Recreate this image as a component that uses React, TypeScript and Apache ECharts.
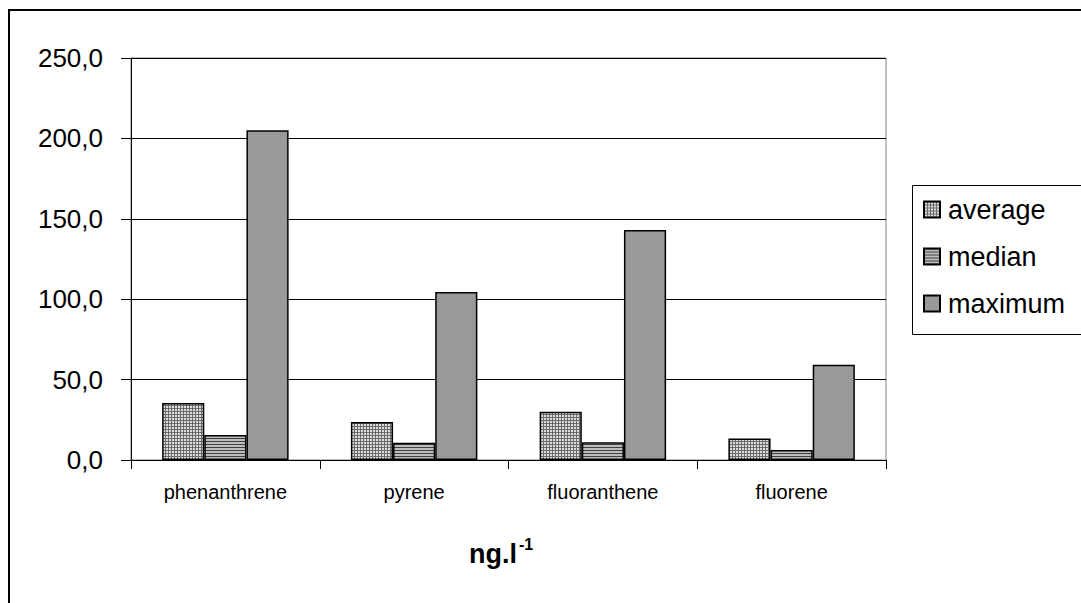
import React, { useEffect, useRef } from "react";
import * as echarts from "echarts";

const categories = ["phenanthrene", "pyrene", "fluoranthene", "fluorene"];
const averageValues = [35.5, 23.7, 30.0, 13.3];
const medianValues = [15.5, 10.8, 11.0, 6.2];
const maximumValues = [205.0, 104.5, 143.0, 59.3];
const seriesNames = ["average", "median", "maximum"];
const yTicks = { min: 0, max: 250, interval: 50 };

function makePattern(kind: string): any {
  const c = document.createElement("canvas");
  if (kind === "grid") {
    c.width = 3;
    c.height = 3;
    const g = c.getContext("2d")!;
    g.fillStyle = "#dcdcdc";
    g.fillRect(0, 0, 3, 3);
    g.fillStyle = "#6a6a6a";
    g.fillRect(0, 0, 3, 1);
    g.fillRect(0, 0, 1, 3);
  } else if (kind === "stripes") {
    c.width = 3;
    c.height = 3;
    const g = c.getContext("2d")!;
    g.fillStyle = "#bdbdbd";
    g.fillRect(0, 0, 3, 3);
    g.fillStyle = "#404040";
    g.fillRect(0, 0, 3, 1);
  } else {
    c.width = 2;
    c.height = 2;
    const g = c.getContext("2d")!;
    g.fillStyle = "#9c9c9c";
    g.fillRect(0, 0, 2, 2);
    g.fillStyle = "#909090";
    g.fillRect(0, 0, 1, 1);
  }
  return { image: c, repeat: "repeat", imageWidth: c.width, imageHeight: c.height };
}

export default function App() {
  const ref = useRef<HTMLDivElement>(null);
  useEffect(() => {
    if (!ref.current) return;
    const chart = echarts.init(ref.current, null, { renderer: "svg" });
    const fills = [makePattern("grid"), makePattern("stripes"), makePattern("dots")];
    const datas = [averageValues, medianValues, maximumValues];
    const font = "Liberation Sans, Arial, sans-serif";
    chart.setOption({
      animation: false,
      backgroundColor: "#ffffff",
      textStyle: { fontFamily: font },
      grid: {
        left: 131,
        right: 195,
        top: 58,
        bottom: 143,
        show: true,
        borderColor: "#808080",
        borderWidth: 1,
      },
      legend: {
        orient: "vertical",
        left: 923,
        top: 196,
        itemWidth: 16,
        itemHeight: 16,
        itemGap: 20,
        padding: 0,
        icon: "rect",
        selectedMode: false,
        textStyle: { fontSize: 27, color: "#000", fontFamily: font, padding: [0, 0, 0, 3] },
        data: seriesNames,
      },
      xAxis: {
        type: "category",
        data: categories,
        axisLine: { lineStyle: { color: "#000", width: 1 } },
        axisTick: { show: true, length: 9, lineStyle: { color: "#000" } },
        axisLabel: { fontSize: 20, color: "#000", margin: 22, fontFamily: font },
        splitLine: { show: false },
      },
      yAxis: {
        type: "value",
        min: yTicks.min,
        max: yTicks.max,
        interval: yTicks.interval,
        axisLine: { show: true, lineStyle: { color: "#000", width: 1 } },
        axisTick: { show: true, length: 10, lineStyle: { color: "#000" } },
        axisLabel: {
          fontSize: 26,
          color: "#000",
          margin: 28,
          fontFamily: font,
          formatter: (v: number) => v.toFixed(1).replace(".", ","),
        },
        splitLine: { show: true, lineStyle: { color: "#000", width: 1 } },
      },
      series: seriesNames.map((name, i) => ({
        name,
        type: "bar",
        data: datas[i],
        barGap: "0%",
        barCategoryGap: "33%",
        itemStyle: { color: fills[i], borderColor: "#000", borderWidth: 1.5 },
      })),
      graphic: [
        {
          type: "rect",
          silent: true,
          shape: { x: 9, y: 10, width: 1200, height: 800 },
          style: { fill: "none", stroke: "#000", lineWidth: 2 },
        },
        {
          type: "rect",
          silent: true,
          shape: { x: 912.5, y: 185.5, width: 300, height: 149 },
          style: { fill: "none", stroke: "#000", lineWidth: 1 },
        },
        {
          type: "text",
          left: 469,
          top: 540,
          style: { text: "ng.l", fontSize: 27, fontWeight: "bold", fill: "#000", fontFamily: font },
        },
        {
          type: "text",
          left: 519,
          top: 536,
          style: { text: "-1", fontSize: 16, fontWeight: "bold", fill: "#000", fontFamily: font },
        },
      ],
    });
    return () => chart.dispose();
  }, []);
  return (
    <div
      ref={ref}
      style={{ position: "absolute", left: 0, top: 0, width: 1081, height: 603 }}
    />
  );
}
